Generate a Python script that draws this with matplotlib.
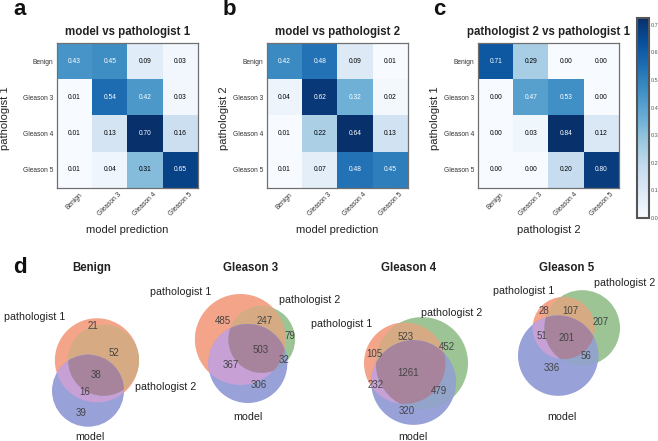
import numpy as np
import matplotlib
matplotlib.use('Agg')
import matplotlib.pyplot as plt
from matplotlib.patches import Circle, Polygon
from matplotlib.colors import Normalize
from matplotlib.cm import ScalarMappable

plt.rcParams['font.family'] = ['Liberation Sans', 'DejaVu Sans']

# ---------------- data ----------------
classes = ['Benign', 'Gleason 3', 'Gleason 4', 'Gleason 5']

cm_model_p1 = np.array([[0.43, 0.45, 0.09, 0.03],
                        [0.01, 0.54, 0.42, 0.03],
                        [0.01, 0.13, 0.70, 0.16],
                        [0.01, 0.04, 0.31, 0.65]])
cm_model_p2 = np.array([[0.42, 0.48, 0.09, 0.01],
                        [0.04, 0.62, 0.32, 0.02],
                        [0.01, 0.22, 0.64, 0.13],
                        [0.01, 0.07, 0.48, 0.45]])
cm_p2_p1 = np.array([[0.71, 0.29, 0.00, 0.00],
                     [0.00, 0.47, 0.53, 0.00],
                     [0.00, 0.03, 0.84, 0.12],
                     [0.00, 0.00, 0.20, 0.80]])

heat_titles = ['model vs pathologist 1', 'model vs pathologist 2', 'pathologist 2 vs pathologist 1']
heat_ylabels = ['pathologist 1', 'pathologist 2', 'pathologist 1']
heat_xlabels = ['model prediction', 'model prediction', 'pathologist 2']
cbar_ticks = [0.0, 0.1, 0.2, 0.3, 0.4, 0.5, 0.6, 0.7]
cbar_max = 0.725

set_names = ['pathologist 1', 'pathologist 2', 'model']
venn_titles = ['Benign', 'Gleason 3', 'Gleason 4', 'Gleason 5']
# subset order: (p1 only, p2 only, p1&p2, model only, p1&model, p2&model, all three)
venn_benign = [21, 0, 52, 39, 16, 0, 38]
venn_g3 = [485, 79, 247, 306, 367, 32, 503]
venn_g4 = [105, 452, 523, 320, 232, 479, 1261]
venn_g5 = [28, 207, 107, 336, 51, 56, 201]
venn_data = [venn_benign, venn_g3, venn_g4, venn_g5]

# ---------------- helpers ----------------
W, H = 658, 441
fig = plt.figure(figsize=(W / 100, H / 100), dpi=100)


def fx(x):
    return x / W


def fy(y):
    return 1 - y / H


def px_axes(x0, y0, x1, y1):
    return fig.add_axes([fx(x0), fy(y1), (x1 - x0) / W, (y1 - y0) / H])


def lens_area(r1, r2, d):
    if d >= r1 + r2:
        return 0.0
    if d <= abs(r1 - r2):
        return np.pi * min(r1, r2) ** 2
    a1 = r1 ** 2 * np.arccos((d * d + r1 * r1 - r2 * r2) / (2 * d * r1))
    a2 = r2 ** 2 * np.arccos((d * d + r2 * r2 - r1 * r1) / (2 * d * r2))
    a3 = 0.5 * np.sqrt((-d + r1 + r2) * (d + r1 - r2) * (d - r1 + r2) * (d + r1 + r2))
    return a1 + a2 - a3


def dist_for_area(r1, r2, area):
    lo, hi = abs(r1 - r2), r1 + r2
    if area <= 0:
        return hi
    if area >= np.pi * min(r1, r2) ** 2 - 1e-9:
        return lo
    for _ in range(200):
        mid = 0.5 * (lo + hi)
        if lens_area(r1, r2, mid) > area:
            lo = mid
        else:
            hi = mid
    return 0.5 * (lo + hi)


def venn3_layout(s):
    Abc, aBc, ABc, abC, AbC, aBC, ABC = s
    A = Abc + ABc + AbC + ABC
    B = aBc + ABc + aBC + ABC
    C = abC + AbC + aBC + ABC
    r = np.sqrt(np.array([A, B, C], float) / np.pi)
    d = [dist_for_area(r[0], r[1], ABc + ABC),
         dist_for_area(r[1], r[2], aBC + ABC),
         dist_for_area(r[2], r[0], AbC + ABC)]
    for i in range(3):
        j, k = (i + 1) % 3, (i + 2) % 3
        if d[i] > d[j] + d[k]:
            a, b = (j, k) if d[j] < d[k] else (k, j)
            d[i] = d[b] + d[a] * 0.8
    dab, dbc, dac = d
    cx = (dac ** 2 - dbc ** 2 + dab ** 2) / (2 * dab)
    cy = -np.sqrt(max(dac ** 2 - cx ** 2, 0.0))
    centers = np.array([[0.0, 0.0], [dab, 0.0], [cx, cy]])
    return centers, r


def lens_polygon(c1, r1, c2, r2, n=720):
    t = np.linspace(0, 2 * np.pi, n, endpoint=False)
    p1 = c1 + r1 * np.c_[np.cos(t), np.sin(t)]
    p1 = p1[np.hypot(*(p1 - c2).T) <= r2 + 1e-9]
    p2 = c2 + r2 * np.c_[np.cos(t), np.sin(t)]
    p2 = p2[np.hypot(*(p2 - c1).T) <= r1 + 1e-9]
    pts = np.vstack([p1, p2])
    m = pts.mean(axis=0)
    ang = np.arctan2(pts[:, 1] - m[1], pts[:, 0] - m[0])
    return pts[np.argsort(ang)]


region_patterns = [(1, 0, 0), (0, 1, 0), (1, 1, 0), (0, 0, 1), (1, 0, 1), (0, 1, 1), (1, 1, 1)]


def in_region(pt, centers, r, p, margin=0.0):
    for k in range(3):
        dk = np.hypot(pt[0] - centers[k][0], pt[1] - centers[k][1])
        if p[k] and dk > r[k] - margin:
            return False
        if (not p[k]) and dk < r[k] + margin:
            return False
    return True


def region_label_positions(centers, r, n=3600):
    xs = np.linspace((centers[:, 0] - r).min(), (centers[:, 0] + r).max(), 400)
    ys = np.linspace((centers[:, 1] - r).min(), (centers[:, 1] + r).max(), 400)
    X, Y = np.meshgrid(xs, ys)
    D = np.array([np.hypot(X - c[0], Y - c[1]) - ri for c, ri in zip(centers, r)])
    inside = D < 0
    clear = np.abs(D).min(axis=0)
    t = np.linspace(0, 2 * np.pi, n, endpoint=False)
    scale = r.max()
    out = []
    for p in region_patterns:
        m = np.ones_like(X, bool)
        for k in range(3):
            m &= (inside[k] == bool(p[k]))
        if not m.any():
            out.append(None)
            continue
        idx = np.argmax(np.where(m, clear, -1))
        pole = (X.flat[idx], Y.flat[idx])
        mids = []
        for k in range(3):
            pts = centers[k] + r[k] * np.c_[np.cos(t), np.sin(t)]
            mask = np.ones(n, bool)
            for j in range(3):
                if j == k:
                    continue
                ins = np.hypot(*(pts - centers[j]).T) < r[j]
                mask &= (ins == bool(p[j]))
            if not mask.any() or mask.all():
                continue
            start = int(np.argmax(~mask))
            mm = np.roll(mask, -start)
            i = 0
            while i < n:
                if mm[i]:
                    j = i
                    while j < n and mm[j]:
                        j += 1
                    if j - i > n * 0.01:
                        mid = ((i + j - 1) / 2.0 + start) % n
                        ang = 2 * np.pi * mid / n
                        mids.append(centers[k] + r[k] * np.array([np.cos(ang), np.sin(ang)]))
                    i = j
                else:
                    i += 1
        if mids:
            cand = np.mean(mids, axis=0)
            if in_region(cand, centers, r, p, margin=0.06 * scale):
                out.append(tuple(cand))
                continue
        out.append(pole)
    return out


# region colours (as they appear)
col_A = '#F3A489'
col_B = '#9CC495'
col_C = '#98A1D8'
col_AB = '#D6AB84'
col_AC = '#C7A0D6'
col_BC = '#93A4CB'
col_ABC = '#A8849C'

# ---------------- heatmaps ----------------
heat_x0 = [57, 267, 478]
mats = [cm_model_p1, cm_model_p2, cm_p2_p1]
letters = ['a', 'b', 'c']
letter_x = [13, 223, 433]
for k in range(3):
    x0 = heat_x0[k]
    ax = px_axes(x0, 43, x0 + 141, 188)
    cm = mats[k]
    ax.imshow(cm, cmap='Blues', interpolation='nearest', aspect='auto')
    thresh = cm.max() / 2.0
    for i in range(cm.shape[0]):
        for j in range(cm.shape[1]):
            ax.text(j, i, f"{cm[i, j]:.2f}", ha='center', va='center', fontsize=4.8,
                    color='white' if cm[i, j] >= thresh else 'black')
    ax.set_xticks(range(len(classes)))
    ax.set_xticklabels(classes, rotation=45, fontsize=4.8, color='#333333')
    ax.set_yticks(range(len(classes)))
    ax.set_yticklabels(classes, fontsize=4.8, color='#333333')
    ax.tick_params(length=0, pad=2.5)
    for sp in ax.spines.values():
        sp.set_color('#707070')
        sp.set_linewidth(0.9)
    cxp = x0 + 70.5
    fig.text(fx(cxp), fy(32), heat_titles[k], ha='center', va='center', fontsize=8.3,
             fontweight='bold', color='#222222')
    fig.text(fx(cxp), fy(230), heat_xlabels[k], ha='center', va='center', fontsize=8,
             color='#222222')
    fig.text(fx(x0 - 52 if k == 0 else x0 - 43), fy(118), heat_ylabels[k], ha='center',
             va='center', rotation=90, fontsize=8, color='#222222')
    fig.text(fx(letter_x[k]), fy(15), letters[k], ha='left', va='baseline', fontsize=16,
             fontweight='bold', color='#111111')

# colorbar
cax = px_axes(637, 18, 649, 218)
sm = ScalarMappable(norm=Normalize(0, cbar_max), cmap='Blues')
cb = fig.colorbar(sm, cax=cax, ticks=cbar_ticks)
cb.ax.set_yticklabels([f"{t:.1f}" for t in cbar_ticks])
cb.ax.tick_params(length=0, labelsize=4.0, labelcolor='#555555', pad=1.2)
cb.outline.set_edgecolor('#555555')
cb.outline.set_linewidth(1.5)

# ---------------- venn diagrams ----------------
venn_boxes = [(52, 318, 139, 427), (192, 294, 298, 403), (364, 310, 468, 432), (518, 289, 620, 397)]
venn_title_x = [92, 251, 409, 567]
set_label_pos = [
    [(35, 317), (166, 387), (90, 437)],
    [(181, 292), (310, 300), (248, 417)],
    [(342, 324), (452, 313), (413, 437)],
    [(524, 291), (625, 283), (562, 417)],
]
# label placements (pixels) that the reference puts elsewhere than the automatic guess
number_pos_override = {(0, 0): (93, 326), (0, 4): (85, 392)}

fig.text(fx(13), fy(273), 'd', ha='left', va='baseline', fontsize=16, fontweight='bold',
         color='#111111')

for v in range(4):
    s = venn_data[v]
    centers, r = venn3_layout(s)
    ax = px_axes(*venn_boxes[v])
    ax.set_xlim((centers[:, 0] - r).min(), (centers[:, 0] + r).max())
    ax.set_ylim((centers[:, 1] - r).min(), (centers[:, 1] + r).max())
    ax.set_aspect('equal', adjustable='datalim')
    ax.axis('off')

    cA = Circle(centers[0], r[0], facecolor=col_A, edgecolor='none')
    cB = Circle(centers[1], r[1], facecolor=col_B, edgecolor='none')
    ax.add_patch(cA)
    ax.add_patch(cB)
    clipA = Circle(centers[0], r[0], transform=ax.transData)
    clipB = Circle(centers[1], r[1], transform=ax.transData)
    clipC = Circle(centers[2], r[2], transform=ax.transData)
    pAB = ax.add_patch(Circle(centers[1], r[1], facecolor=col_AB, edgecolor='none'))
    pAB.set_clip_path(clipA)
    ax.add_patch(Circle(centers[2], r[2], facecolor=col_C, edgecolor='none'))
    pAC = ax.add_patch(Circle(centers[2], r[2], facecolor=col_AC, edgecolor='none'))
    pAC.set_clip_path(clipA)
    pBC = ax.add_patch(Circle(centers[2], r[2], facecolor=col_BC, edgecolor='none'))
    pBC.set_clip_path(clipB)
    lens = lens_polygon(centers[0], r[0], centers[1], r[1])
    pABC = ax.add_patch(Polygon(lens, closed=True, facecolor=col_ABC, edgecolor='none'))
    pABC.set_clip_path(clipC)

    positions = region_label_positions(centers, r)
    for ri, (val, pos) in enumerate(zip(s, positions)):
        if pos is None or val == 0:
            continue
        if (v, ri) in number_pos_override:
            px, py = number_pos_override[(v, ri)]
            fig.text(fx(px), fy(py), str(val), ha='center', va='center', fontsize=7,
                     color='#444444')
        else:
            ax.text(pos[0], pos[1], str(val), ha='center', va='center', fontsize=7,
                    color='#444444')

    fig.text(fx(venn_title_x[v]), fy(268), venn_titles[v], ha='center', va='center',
             fontsize=8.3, fontweight='bold', color='#222222')
    for name, (lx, ly) in zip(set_names, set_label_pos[v]):
        fig.text(fx(lx), fy(ly), name, ha='center', va='center', fontsize=7.7,
                 color='#222222')

fig.savefig('out.png', dpi=100)
